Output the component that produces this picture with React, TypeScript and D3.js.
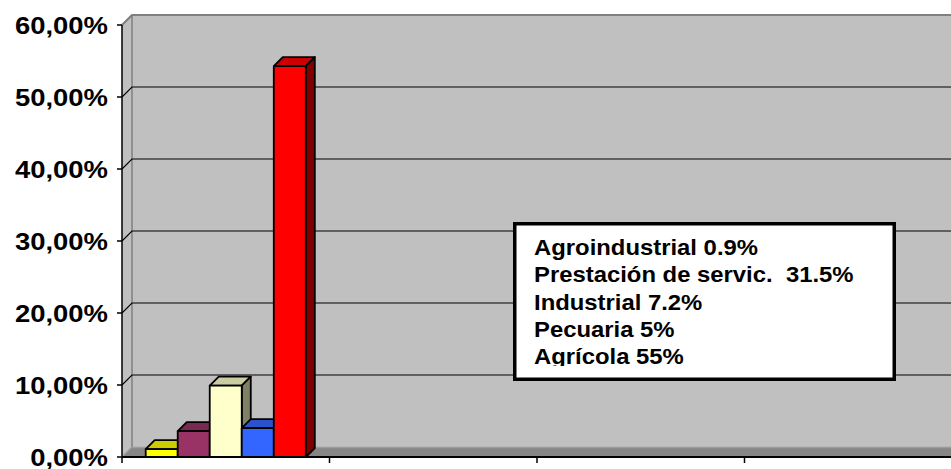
import React from "react";
import * as d3 from "d3";

const categories = ["C1", "C2", "C3", "C4"];
const seriesNames = ["Agroindustrial", "Pecuaria", "Industrial", "Prestación de servicios", "Agrícola"];
const seriesValues = [1.1, 3.6, 9.9, 4.0, 54.3];
const seriesColors = ["#FFFF00", "#993366", "#FFFFCC", "#3366FF", "#FF0000"];
const yTicks = [0, 10, 20, 30, 40, 50, 60];
const legendLines = [
  "Agroindustrial 0.9%",
  "Prestación de servic.  31.5%",
  "Industrial 7.2%",
  "Pecuaria 5%",
  "Agrícola 55%",
];

const W = 951;
const H = 469;
const X0 = 122;
const XEND = 952;
const Y0 = 457;
const YTOP = 25;
const WDX = 10;
const WDY = -10;
const BDX = 9;
const BDY = -9;
const FONT = "Arial, 'Liberation Sans', Helvetica, sans-serif";

function shade(c: string, k: number) {
  const r = d3.rgb(c);
  return d3.rgb(r.r * k, r.g * k, r.b * k).formatHex();
}

export default function App() {
  const y = d3.scaleLinear().domain([0, 60]).range([Y0, YTOP]);
  const x = d3.scaleBand<string>().domain(categories).range([X0, XEND]);
  const xs = d3
    .scaleBand<string>()
    .domain(seriesNames)
    .range([0, x.bandwidth()])
    .paddingInner(0)
    .paddingOuter(0.74);

  const backRight = W + 20;

  return (
    <svg
      width={W}
      height={H}
      style={{ position: "absolute", left: 0, top: 0, display: "block", background: "#fff" }}
    >
      {/* back wall */}
      <rect
        x={X0 + WDX}
        y={YTOP + WDY}
        width={backRight - X0 - WDX}
        height={Y0 - YTOP}
        fill="#C0C0C0"
      />
      {/* side wall */}
      <polygon
        points={`${X0},${YTOP} ${X0 + WDX},${YTOP + WDY} ${X0 + WDX},${Y0 + WDY} ${X0},${Y0}`}
        fill="#C0C0C0"
      />
      <line
        x1={X0 + WDX}
        x2={X0 + WDX}
        y1={YTOP + WDY}
        y2={Y0 + WDY}
        stroke="#808080"
        strokeWidth={1.5}
      />
      {/* gridlines */}
      {yTicks
        .filter((t) => t > 0 && t < 60)
        .map((t) => (
          <path
            key={t}
            d={`M${X0},${y(t)} L${X0 + WDX},${y(t) + WDY} L${backRight},${y(t) + WDY}`}
            fill="none"
            stroke="#000"
            strokeWidth={1.2}
          />
        ))}
      <path
        d={`M${X0},${y(60)} L${X0 + WDX},${y(60) + WDY} L${backRight},${y(60) + WDY}`}
        fill="none"
        stroke="#808080"
        strokeWidth={2.2}
      />
      {/* floor */}
      <polygon
        points={`${X0},${Y0} ${X0 + WDX},${Y0 + WDY} ${backRight},${Y0 + WDY} ${backRight - WDX},${Y0}`}
        fill="#868686"
      />
      <line x1={X0 + WDX} x2={backRight} y1={Y0 + WDY + 0.5} y2={Y0 + WDY + 0.5} stroke="#9C9C9C" strokeWidth={1.5} />
      <line x1={X0} x2={X0 + WDX} y1={Y0} y2={Y0 + WDY} stroke="#9C9C9C" strokeWidth={1.5} />

      {/* bars */}
      {seriesNames.map((s, i) => {
        const bx = (x(categories[0]) as number) + (xs(s) as number);
        const bw = xs.bandwidth();
        const top = y(seriesValues[i]);
        const bot = y(0);
        const c = seriesColors[i];
        return (
          <g key={s} stroke="#000" strokeWidth={1.8} strokeLinejoin="round">
            <polygon
              points={`${bx},${top} ${bx + BDX},${top + BDY} ${bx + bw + BDX},${top + BDY} ${bx + bw},${top}`}
              fill={shade(c, 0.8)}
            />
            <polygon
              points={`${bx + bw},${top} ${bx + bw + BDX},${top + BDY} ${bx + bw + BDX},${bot + BDY} ${bx + bw},${bot}`}
              fill={shade(c, 0.5)}
            />
            <rect x={bx} y={top} width={bw} height={bot - top} fill={c} />
          </g>
        );
      })}

      {/* axes */}
      <line x1={X0} x2={W} y1={Y0} y2={Y0} stroke="#000" strokeWidth={2} />
      <line x1={X0} x2={X0} y1={YTOP} y2={Y0 + 6} stroke="#000" strokeWidth={1.5} />
      {categories.map((c, i) =>
        i === 0 ? null : (
          <line
            key={c}
            x1={x(c) as number}
            x2={x(c) as number}
            y1={Y0}
            y2={Y0 + 6}
            stroke="#000"
            strokeWidth={1.5}
          />
        )
      )}
      {yTicks.map((t) => (
        <g key={t}>
          <line x1={X0 - 5} x2={X0} y1={y(t)} y2={y(t)} stroke="#000" strokeWidth={1.5} />
          <g transform={`translate(108,${y(t) + 8.9}) scale(1.12,1)`}>
            <text
              textAnchor="end"
              fontFamily={FONT}
              fontWeight="bold"
              fontSize={24.5}
              fill="#000"
            >
              {d3.format(".2f")(t).replace(".", ",") + "%"}
            </text>
          </g>
        </g>
      ))}

      {/* text box */}
      <defs>
        <clipPath id="boxclip">
          <rect x={516} y={225} width={377} height={141} />
        </clipPath>
      </defs>
      <rect x={514.75} y={223.75} width={379.5} height={155.5} fill="#fff" stroke="#000" strokeWidth={3.5} />
      <g clipPath="url(#boxclip)">
        {legendLines.map((l, i) => (
          <g key={i} transform={`translate(534,${255 + i * 27.3}) scale(1.12,1)`}>
            <text
              fontFamily={FONT}
              fontWeight="bold"
              fontSize={21.3}
              fill="#000"
              style={{ whiteSpace: "pre" }}
            >
              {l}
            </text>
          </g>
        ))}
      </g>
    </svg>
  );
}
